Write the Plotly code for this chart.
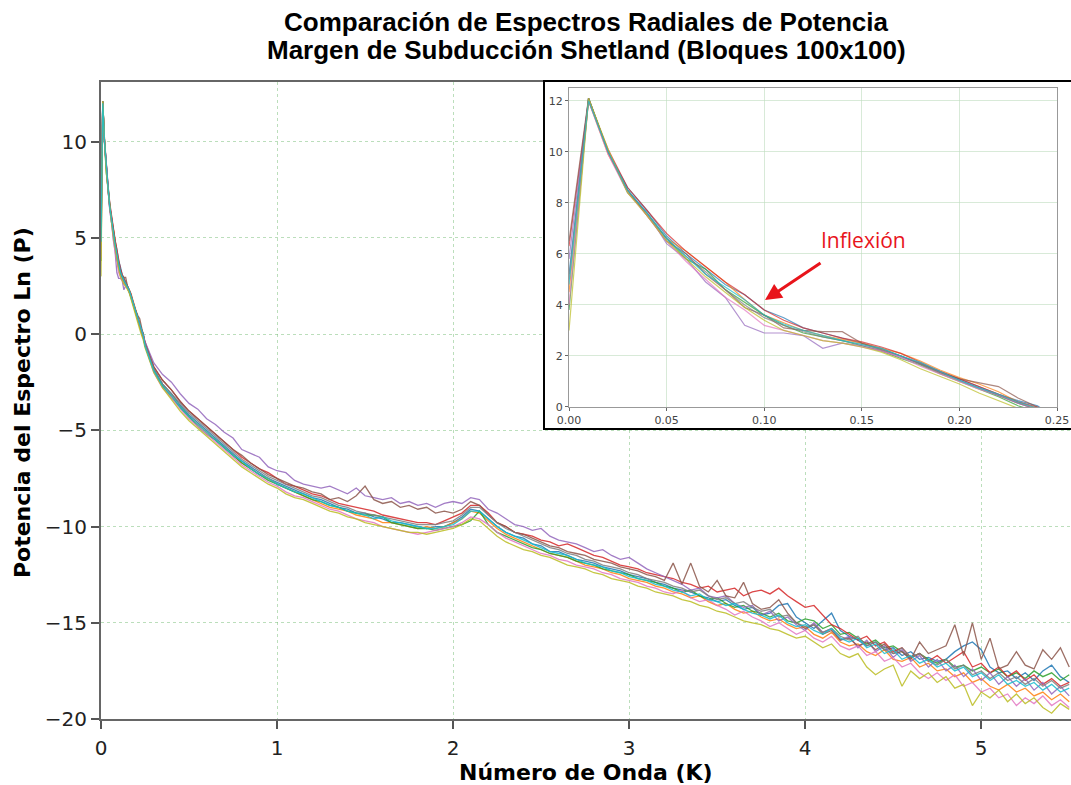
import plotly.graph_objects as go

# Wavenumber grid (K): dense start, then regular 0.05 steps
K_dense = [0.00, 0.01, 0.02, 0.03, 0.04, 0.05, 0.06, 0.07, 0.08, 0.09, 0.10, 0.11, 0.12,
           0.13, 0.14, 0.15, 0.16, 0.17, 0.18, 0.19, 0.20, 0.21, 0.22, 0.23, 0.24]
K_main = [round(0.25 + 0.05 * i, 2) for i in range(106)]
K = K_dense + K_main

serie_1 = [5.2, 12.1, 10.0, 8.6, 7.7, 6.7, 6.0, 5.4, 4.8, 4.4, 3.8, 3.5, 3.1, 2.9, 2.7, 2.5, 2.3, 2.0, 1.7, 1.4, 1.1, 0.8, 0.5, 0.25, 0.05,
           -0.5, -1.8, -2.6, -3.1, -3.7, -4.2, -4.6, -5.0, -5.4, -5.8,
           -6.2, -6.6, -6.9, -7.2, -7.5, -7.7, -7.9, -8.1, -8.3, -8.5,
           -8.6, -8.8, -9.0, -9.1, -9.3, -9.3, -9.5, -9.6, -9.8, -9.8,
           -9.9, -10.0, -10.1, -10.0, -10.0, -9.8, -9.5, -9.1, -9.2, -9.6,
           -10.0, -10.3, -10.5, -10.6, -10.9, -11.0, -11.3, -11.3, -11.5, -11.7,
           -11.8, -11.9, -12.1, -12.2, -12.3, -12.5, -12.6, -12.7, -12.9, -13.0,
           -13.2, -13.3, -13.4, -13.6, -13.7, -13.9, -13.8, -14.1, -14.3, -14.2,
           -14.6, -14.5, -14.1, -14.0, -14.7, -15.0, -15.3, -14.9, -14.5, -15.4,
           -15.7, -15.9, -16.2, -16.0, -16.4, -16.3, -16.7, -16.5, -16.9, -16.8,
           -17.0, -16.9, -16.5, -16.2, -16.0, -16.4, -17.3, -17.6, -17.5, -17.9,
           -17.6, -18.0, -17.5, -17.2, -17.8, -18.1]

serie_2 = [4.5, 12.0, 9.9, 8.5, 7.5, 6.6, 6.1, 5.5, 4.9, 4.2, 3.6, 3.3, 3.0, 2.8, 2.65, 2.5, 2.3, 2.1, 1.8, 1.45, 1.15, 0.9, 0.6, 0.2, -0.05,
           -0.6, -1.9, -2.7, -3.2, -3.8, -4.3, -4.7, -5.1, -5.5, -5.9,
           -6.3, -6.7, -7.0, -7.3, -7.5, -7.8, -8.0, -8.2, -8.4, -8.6,
           -8.8, -9.0, -9.1, -9.2, -9.4, -9.5, -9.6, -9.8, -9.8, -9.9,
           -10.0, -10.1, -10.0, -10.1, -10.0, -9.8, -9.6, -9.2, -9.3, -9.7,
           -10.1, -10.4, -10.6, -10.8, -11.0, -11.2, -11.4, -11.5, -11.6, -11.8,
           -12.0, -12.1, -12.2, -12.4, -12.5, -12.7, -12.8, -12.9, -13.1, -13.2,
           -13.4, -13.5, -13.7, -13.6, -13.9, -14.1, -14.0, -14.3, -14.5, -14.4,
           -14.7, -14.9, -14.8, -15.1, -15.3, -15.2, -15.6, -15.8, -15.5, -16.0,
           -16.2, -16.1, -16.5, -16.7, -16.4, -16.9, -17.0, -16.8, -17.3, -17.1,
           -17.5, -17.4, -17.8, -17.6, -18.1, -17.9, -18.3, -18.5, -18.2, -18.6,
           -18.4, -18.8, -18.6, -19.0, -18.7, -19.1]

serie_3 = [3.8, 12.1, 10.0, 8.4, 7.6, 6.6, 5.8, 5.4, 4.6, 4.1, 3.6, 3.2, 2.9, 2.75, 2.6, 2.4, 2.2, 1.9, 1.65, 1.3, 1.0, 0.7, 0.4, 0.05, -0.2,
           -0.6, -1.9, -2.7, -3.3, -3.8, -4.3, -4.8, -5.2, -5.5, -5.9,
           -6.3, -6.7, -7.0, -7.3, -7.6, -7.8, -8.0, -8.2, -8.4, -8.6,
           -8.7, -8.9, -9.0, -9.2, -9.3, -9.4, -9.4, -9.5, -9.8, -9.9,
           -10.0, -10.1, -10.1, -10.2, -10.1, -10.0, -9.9, -9.7, -9.2, -9.9,
           -10.3, -10.5, -10.7, -10.9, -11.1, -11.2, -11.4, -11.5, -11.6, -11.8,
           -11.9, -12.0, -12.2, -12.3, -12.4, -12.5, -12.7, -12.8, -12.9, -13.1,
           -13.2, -13.4, -13.3, -13.6, -13.8, -13.7, -14.0, -14.2, -14.1, -14.4,
           -14.5, -14.7, -14.5, -14.9, -15.0, -14.8, -14.9, -15.3, -15.1, -15.6,
           -15.5, -15.8, -16.1, -15.9, -16.3, -16.2, -16.5, -16.8, -16.6, -16.9,
           -17.1, -16.9, -17.3, -17.2, -17.5, -17.3, -17.6, -17.4, -17.8, -17.6,
           -17.9, -17.5, -17.8, -17.6, -18.0, -17.7]

serie_4 = [6.3, 12.0, 10.1, 8.6, 7.7, 6.8, 6.1, 5.5, 4.9, 4.4, 3.8, 3.4, 3.1, 2.9, 2.7, 2.55, 2.35, 2.1, 1.75, 1.4, 1.1, 0.8, 0.5, 0.2, 0.0,
           -0.4, -1.7, -2.4, -2.9, -3.5, -4.0, -4.4, -4.8, -5.2, -5.6,
           -6.0, -6.4, -6.7, -7.0, -7.2, -7.5, -7.8, -7.9, -8.1, -8.3,
           -8.4, -8.6, -8.8, -8.9, -9.0, -9.1, -9.2, -9.4, -9.5, -9.6,
           -9.7, -9.8, -9.8, -9.9, -9.7, -9.5, -9.3, -8.9, -8.9, -9.3,
           -9.8, -10.0, -10.3, -10.4, -10.5, -10.7, -10.8, -11.0, -10.9, -11.1,
           -11.3, -11.5, -11.6, -11.8, -12.0, -12.1, -12.2, -12.4, -12.5, -12.6,
           -12.7, -12.9, -13.0, -13.2, -13.1, -13.4, -13.3, -13.2, -13.6, -13.4,
           -13.3, -13.5, -13.2, -13.6, -13.9, -14.2, -14.1, -14.6, -15.1, -15.3,
           -15.6, -15.9, -15.7, -16.2, -16.0, -16.5, -16.3, -16.8, -16.6, -17.0,
           -16.7, -17.1, -16.8, -16.5, -17.3, -17.1, -17.6, -17.3, -17.8, -17.5,
           -18.0, -17.7, -18.2, -17.9, -18.3, -18.1]

serie_5 = [5.8, 12.1, 10.0, 8.5, 7.6, 6.4, 5.8, 4.9, 4.3, 3.2, 2.9, 2.9, 2.8, 2.3, 2.5, 2.4, 2.2, 1.95, 1.7, 1.35, 1.05, 0.75, 0.45, 0.15, -0.1,
           -0.4, -1.5, -2.1, -2.5, -3.1, -3.6, -3.9, -4.4, -4.7, -5.1,
           -5.4, -6.0, -6.2, -6.4, -6.9, -7.1, -7.2, -7.6, -7.8, -7.9,
           -8.0, -7.9, -8.1, -8.3, -8.0, -8.4, -8.5, -8.6, -8.5, -8.8,
           -8.7, -8.9, -8.8, -9.0, -8.8, -8.7, -8.8, -8.5, -8.6, -9.1,
           -9.3, -9.6, -9.9, -10.0, -10.2, -10.1, -10.5, -10.7, -10.8, -10.9,
           -11.1, -11.3, -11.2, -11.5, -11.7, -11.6, -11.9, -12.2, -12.4, -12.6,
           -12.8, -13.0, -13.3, -13.2, -13.6, -13.7, -13.6, -14.0, -14.2, -14.1,
           -14.6, -14.4, -14.9, -14.7, -15.1, -15.4, -15.0, -15.5, -15.3, -15.9,
           -15.7, -16.3, -15.9, -16.5, -16.2, -16.8, -16.4, -17.0, -16.7, -17.3,
           -16.9, -17.5, -17.2, -17.8, -17.4, -18.0, -17.6, -18.2, -17.8, -18.3,
           -17.9, -18.5, -18.1, -18.7, -18.3, -18.8]

serie_6 = [6.5, 12.1, 10.0, 8.5, 7.5, 6.5, 6.0, 5.2, 4.6, 3.9, 3.6, 3.1, 3.0, 2.95, 2.95, 2.5, 2.25, 2.0, 1.7, 1.35, 1.1, 0.95, 0.8, 0.35, 0.0,
           -0.5, -1.7, -2.4, -2.9, -3.5, -4.0, -4.4, -4.8, -5.2, -5.6,
           -6.0, -6.3, -6.7, -7.0, -7.3, -7.5, -7.7, -7.9, -8.0, -8.2,
           -8.3, -8.6, -8.5, -8.7, -8.4, -7.9, -8.6, -8.8, -8.7, -9.0,
           -8.9, -9.1, -9.0, -9.3, -9.2, -9.3, -9.1, -8.7, -8.9, -9.4,
           -9.8, -10.0, -10.3, -10.4, -10.6, -10.8, -11.0, -11.1, -11.3, -11.4,
           -11.5, -11.7, -11.8, -11.9, -12.1, -12.2, -12.3, -12.5, -12.6, -12.8,
           -11.9, -13.0, -11.9, -13.1, -13.4, -12.8, -13.6, -13.7, -12.9, -14.0,
           -14.3, -14.2, -13.8, -14.5, -15.0, -15.3, -15.1, -15.6, -15.4, -15.9,
           -15.8, -16.2, -16.0, -16.4, -16.1, -16.6, -16.5, -16.9, -16.0, -16.6,
           -16.4, -16.2, -15.1, -16.7, -15.0, -16.9, -15.8, -17.4, -17.2, -16.5,
           -17.2, -17.4, -16.4, -16.9, -16.3, -17.3]

serie_7 = [4.0, 12.0, 9.9, 8.4, 7.5, 6.5, 5.7, 5.0, 4.3, 3.8, 3.2, 3.0, 2.8, 2.6, 2.5, 2.35, 2.2, 1.95, 1.6, 1.3, 1.0, 0.7, 0.45, 0.15, -0.1,
           -0.6, -2.0, -2.8, -3.3, -3.9, -4.4, -4.8, -5.2, -5.6, -6.0,
           -6.4, -6.8, -7.1, -7.4, -7.7, -7.9, -8.2, -8.4, -8.5, -8.7,
           -8.9, -9.1, -9.2, -9.4, -9.6, -9.7, -9.8, -10.0, -10.1, -10.2,
           -10.3, -10.4, -10.3, -10.2, -10.1, -10.0, -9.8, -9.5, -9.6, -9.9,
           -10.3, -10.6, -10.8, -11.0, -11.2, -11.4, -11.5, -11.7, -11.8, -12.0,
           -12.1, -12.2, -12.4, -12.5, -12.7, -12.8, -12.9, -13.1, -13.2, -13.4,
           -13.5, -13.3, -13.7, -13.9, -13.8, -14.1, -14.3, -14.6, -14.4, -14.7,
           -14.9, -15.2, -15.0, -15.3, -15.6, -15.4, -15.8, -16.0, -15.7, -16.2,
           -16.4, -16.2, -16.7, -16.5, -17.0, -16.8, -17.3, -17.1, -17.6, -17.9,
           -17.6, -18.0, -17.7, -18.3, -18.1, -18.6, -18.4, -18.9, -18.7, -19.3,
           -18.9, -19.2, -18.8, -19.3, -19.0, -19.4]

serie_8 = [5.0, 12.1, 10.0, 8.5, 7.6, 6.6, 5.9, 5.3, 4.6, 4.0, 3.5, 3.2, 2.95, 2.75, 2.6, 2.45, 2.25, 2.0, 1.7, 1.35, 1.05, 0.75, 0.45, 0.15, -0.1,
           -0.5, -1.8, -2.6, -3.1, -3.6, -4.1, -4.5, -4.9, -5.3, -5.7,
           -6.1, -6.5, -6.8, -7.1, -7.4, -7.6, -7.8, -8.0, -8.2, -8.4,
           -8.5, -8.7, -8.9, -9.0, -9.2, -9.3, -9.4, -9.5, -9.6, -9.7,
           -9.8, -9.9, -9.9, -9.9, -9.8, -9.7, -9.4, -9.0, -9.0, -9.4,
           -9.8, -10.1, -10.3, -10.5, -10.7, -10.9, -11.1, -11.2, -11.4, -11.5,
           -11.7, -11.8, -12.0, -12.1, -12.2, -12.4, -12.5, -12.7, -12.8, -12.9,
           -13.1, -13.2, -13.4, -13.3, -13.6, -13.8, -13.7, -14.0, -13.9, -14.2,
           -14.4, -14.3, -14.7, -14.6, -15.0, -15.2, -15.1, -15.5, -15.3, -15.7,
           -15.9, -15.7, -16.2, -16.0, -16.4, -16.6, -16.3, -16.8, -16.6, -17.0,
           -17.2, -16.9, -17.4, -17.2, -17.7, -17.5, -17.9, -17.6, -18.0, -17.8,
           -18.2, -17.9, -18.3, -18.0, -18.4, -18.2]

serie_9 = [3.0, 12.1, 10.1, 8.4, 7.5, 6.5, 5.8, 5.1, 4.5, 3.9, 3.4, 3.0, 2.8, 2.6, 2.5, 2.35, 2.15, 1.85, 1.5, 1.2, 0.9, 0.55, 0.25, -0.05, -0.3,
           -0.7, -2.0, -2.8, -3.4, -4.0, -4.5, -4.9, -5.3, -5.7, -6.1,
           -6.5, -6.9, -7.2, -7.5, -7.8, -8.0, -8.3, -8.5, -8.6, -8.8,
           -9.0, -9.2, -9.3, -9.5, -9.6, -9.8, -9.9, -10.0, -10.1, -10.2,
           -10.3, -10.3, -10.4, -10.3, -10.2, -10.1, -9.9, -9.6, -9.7, -10.1,
           -10.5, -10.8, -11.0, -11.2, -11.3, -11.5, -11.6, -11.8, -12.0, -12.1,
           -12.2, -12.4, -12.5, -12.7, -12.8, -12.9, -13.1, -13.2, -13.4, -13.5,
           -13.6, -13.8, -13.9, -14.1, -14.2, -14.4, -14.5, -14.7, -14.9, -15.0,
           -15.1, -15.3, -15.4, -15.6, -15.8, -15.7, -16.0, -16.3, -16.1, -16.6,
           -16.8, -16.6, -17.3, -17.7, -17.4, -17.2, -18.3, -17.5, -17.9, -17.6,
           -18.1, -17.8, -18.4, -18.2, -19.3, -18.6, -18.9, -18.5, -19.1, -18.7,
           -19.2, -18.9, -19.4, -19.7, -19.2, -19.5]

serie_10 = [4.8, 12.0, 10.0, 8.5, 7.6, 6.6, 5.9, 5.2, 4.7, 4.2, 3.6, 3.25, 3.0, 2.8, 2.6, 2.45, 2.3, 2.0, 1.75, 1.4, 1.05, 0.75, 0.5, 0.2, -0.05,
            -0.6, -1.9, -2.7, -3.2, -3.8, -4.3, -4.7, -5.1, -5.5, -5.9,
            -6.3, -6.6, -7.0, -7.3, -7.5, -7.8, -8.0, -8.2, -8.3, -8.5,
            -8.7, -8.9, -9.0, -9.2, -9.3, -9.4, -9.6, -9.5, -9.7, -9.8,
            -9.9, -10.0, -10.1, -10.1, -10.0, -9.9, -9.6, -9.2, -9.2, -9.6,
            -10.0, -10.3, -10.5, -10.7, -10.9, -11.1, -11.3, -11.4, -11.5, -11.7,
            -11.9, -12.0, -12.1, -12.3, -12.4, -12.6, -12.7, -12.8, -13.0, -13.1,
            -13.3, -13.4, -13.6, -13.5, -13.8, -13.9, -14.1, -14.0, -14.3, -14.5,
            -14.6, -14.8, -14.6, -15.0, -15.2, -15.1, -15.4, -15.6, -15.3, -15.8,
            -16.0, -15.8, -16.3, -16.1, -16.6, -16.4, -16.9, -16.7, -17.1, -16.9,
            -17.3, -17.1, -17.5, -17.3, -17.8, -17.6, -18.0, -17.7, -18.2, -18.0,
            -18.3, -18.1, -18.5, -18.2, -18.6, -18.4]

series = [serie_1, serie_2, serie_3, serie_4, serie_5, serie_6, serie_7, serie_8, serie_9, serie_10]
colors = ["#1f77b4", "#ff7f0e", "#2ca02c", "#d62728", "#9467bd",
          "#8c564b", "#e377c2", "#7f7f7f", "#bcbd22", "#17becf"]

x_ticks = [0, 1, 2, 3, 4, 5]
y_ticks = [-20, -15, -10, -5, 0, 5, 10]
inset_x_ticks = [0.0, 0.05, 0.10, 0.15, 0.20, 0.25]
inset_x_labels = ["0.00", "0.05", "0.10", "0.15", "0.20", "0.25"]
inset_y_ticks = [0, 2, 4, 6, 8, 10, 12]

fig = go.Figure()

for ys, c in zip(series, colors):
    fig.add_trace(go.Scatter(x=K, y=ys, mode="lines", line=dict(color=c, width=1.3),
                             opacity=0.85, showlegend=False, xaxis="x", yaxis="y"))

# frame subplot for the inset (white box with black border)
fig.add_trace(go.Scatter(x=[], y=[], mode="lines", showlegend=False, xaxis="x2", yaxis="y2"))

n_in = len(K_dense) + 1
for ys, c in zip(series, colors):
    fig.add_trace(go.Scatter(x=K[:n_in], y=ys[:n_in], mode="lines", line=dict(color=c, width=1.2),
                             opacity=0.7, showlegend=False, xaxis="x3", yaxis="y3"))

grid_main = "rgba(120,190,120,0.5)"
axis_common = dict(ticks="outside", ticklen=8, tickwidth=1.5, tickcolor="#555",
                   showline=True, linecolor="#666", linewidth=2, mirror=True,
                   showgrid=True, gridcolor=grid_main, griddash="dot", gridwidth=1,
                   zeroline=False, automargin=False,
                   tickfont=dict(family="DejaVu Sans", size=20, color="#222"))

inset_common = dict(ticks="outside", ticklen=3, tickwidth=1, tickcolor="#666",
                    showline=True, linecolor="#999", linewidth=1.2, mirror=True,
                    showgrid=True, gridcolor="rgba(190,220,190,0.6)", gridwidth=1,
                    zeroline=False, automargin=False,
                    tickfont=dict(family="DejaVu Sans", size=11, color="#444"))

frame_axis = dict(showline=True, linecolor="black", linewidth=1.5, mirror=True, automargin=False,
                  showgrid=False, showticklabels=False, ticks="", zeroline=False, range=[0, 1])

fig.update_layout(
    width=1071, height=785, autosize=False,
    margin=dict(l=101, r=0, t=82, b=66, pad=0),
    paper_bgcolor="white", plot_bgcolor="white",
    showlegend=False,
    xaxis=dict(domain=[0, 1], range=[0, 5.51], tickvals=x_ticks, anchor="y",
               ticklabelstandoff=2, **axis_common),
    yaxis=dict(domain=[0, 1], range=[-20, 13.1], tickvals=y_ticks, anchor="x",
               ticklabelstandoff=0, **axis_common),
    xaxis2=dict(domain=[0.4577, 1.0], anchor="y2", **frame_axis),
    yaxis2=dict(domain=[0.4568, 1.0], anchor="x2", **frame_axis),
    xaxis3=dict(domain=[0.4825, 0.9856], anchor="y3", range=[0, 0.25],
                tickvals=inset_x_ticks, ticktext=inset_x_labels, **inset_common),
    yaxis3=dict(domain=[0.4898, 0.9906], anchor="x3", range=[0, 12.5],
                tickvals=inset_y_ticks, **inset_common),
)

annotations = [
    dict(text="<b>Comparación de Espectros Radiales de Potencia</b>", xref="paper", yref="paper",
         x=0.5, y=1.0942, showarrow=False, xanchor="center", yanchor="middle",
         font=dict(family="Liberation Sans", size=26, color="black")),
    dict(text="<b>Margen de Subducción Shetland (Bloques 100x100)</b>", xref="paper", yref="paper",
         x=0.5, y=1.0502, showarrow=False, xanchor="center", yanchor="middle",
         font=dict(family="Liberation Sans", size=26, color="black")),
    dict(text="<b>Número de Onda (K)</b>", xref="paper", yref="paper",
         x=0.5, y=-0.0845, showarrow=False, xanchor="center", yanchor="middle",
         font=dict(family="DejaVu Sans", size=22, color="black")),
    dict(text="<b>Potencia del Espectro Ln (P)</b>", xref="paper", yref="paper",
         x=-0.0814, y=0.496, showarrow=False, xanchor="center", yanchor="middle", textangle=-90,
         font=dict(family="DejaVu Sans", size=22, color="black")),
    dict(text="Inflexión", xref="x3", yref="y3", x=0.1506, y=6.54, showarrow=False,
         xanchor="center", yanchor="middle",
         font=dict(family="Open Sans", size=21, color="#e8141b")),
    dict(text="", xref="x3", yref="y3", x=0.1004, y=4.19, axref="x3", ayref="y3",
         ax=0.1296, ay=5.68, showarrow=True, arrowhead=2, arrowsize=1.1, arrowwidth=3,
         arrowcolor="#e8141b"),
]
fig.update_layout(annotations=annotations)

post = ("document.documentElement.style.margin='0';document.documentElement.style.overflow='hidden';"
        "document.body.style.margin='0';document.body.style.padding='0';document.body.style.overflow='hidden';"
        "Plotly.relayout('{plot_id}', {width: 1071, height: 785});")
fig.write_html("out.html", post_script=post, config={"displayModeBar": False})
